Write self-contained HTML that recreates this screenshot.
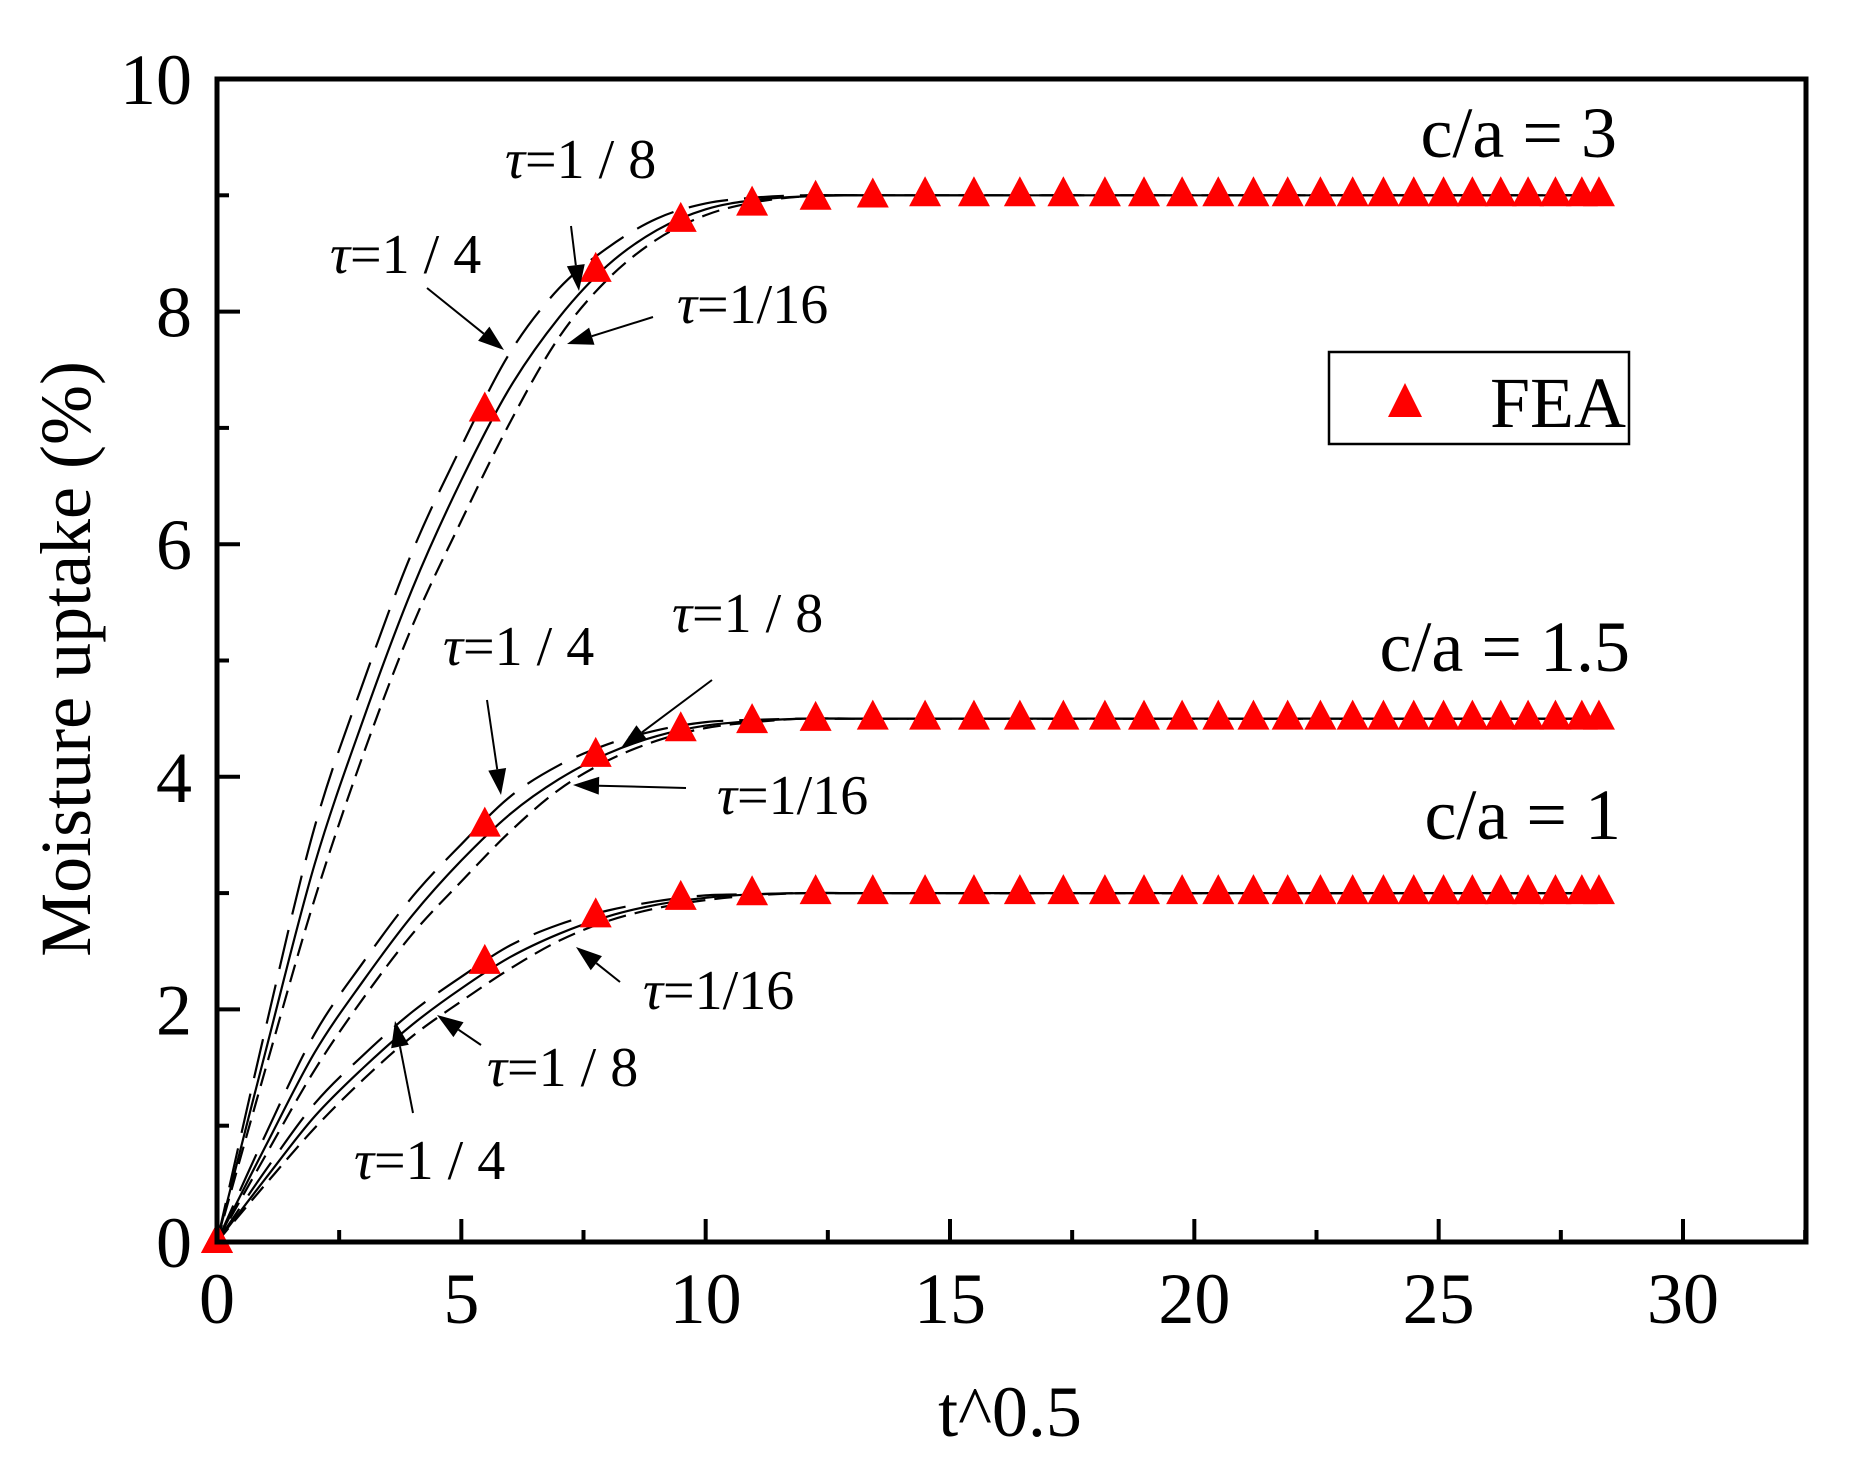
<!DOCTYPE html>
<html><head><meta charset="utf-8"><style>
html,body{margin:0;padding:0;background:#fff;}
svg{display:block;font-family:"Liberation Serif","Times New Roman",serif;}
</style></head><body>
<svg id="chart" xmlns="http://www.w3.org/2000/svg" width="1861" height="1484" viewBox="0 0 1861 1484">
<rect x="0" y="0" width="1861" height="1484" fill="#fff"/>
<g id="curves"></g>
<g id="fea"></g>
<g id="axes"></g>
<g id="annot" font-size="56">
<text x="1617" y="157" text-anchor="end" font-size="72">c/a = 3</text>
<text x="1630" y="671" text-anchor="end" font-size="72">c/a = 1.5</text>
<text x="1621" y="839" text-anchor="end" font-size="72">c/a = 1</text>
<text x="505" y="178"><tspan font-style="italic">τ</tspan>=1 / 8</text>
<text x="330" y="273"><tspan font-style="italic">τ</tspan>=1 / 4</text>
<text x="677" y="323"><tspan font-style="italic">τ</tspan>=1/16</text>
<text x="443" y="665"><tspan font-style="italic">τ</tspan>=1 / 4</text>
<text x="672" y="632"><tspan font-style="italic">τ</tspan>=1 / 8</text>
<text x="717" y="814"><tspan font-style="italic">τ</tspan>=1/16</text>
<text x="643" y="1009"><tspan font-style="italic">τ</tspan>=1/16</text>
<text x="487" y="1086"><tspan font-style="italic">τ</tspan>=1 / 8</text>
<text x="354" y="1179"><tspan font-style="italic">τ</tspan>=1 / 4</text>
</g>
<g id="arrows"></g>
<g>
<rect x="1329" y="352" width="300" height="92" fill="#fff" stroke="#000" stroke-width="2.5"/>
<polygon points="1405,383 1388,417 1422,417" fill="#ff0000"/>
<text x="1490" y="427" font-size="72">FEA</text>
</g>
<text x="1010" y="1436" text-anchor="middle" font-size="72">t^0.5</text>
<text transform="translate(90,659) rotate(-90)" text-anchor="middle" font-size="72">Moisture uptake (%)</text>
</svg>
<script>
const xTicks = [0,5,10,15,20,25,30];
const yTicks = [0,2,4,6,8,10];
const curveX = [0,1,2,3,4,5,6,7,8,9,10,11,12,13,14,28.2];
const tau4_ca3 = [0,1.85,3.57,4.82,5.94,6.84,7.65,8.2,8.55,8.8,8.93,8.98,9.0,9.0,9.0,9.0];
const tau8_ca3 = [0,1.65,3.25,4.5,5.62,6.55,7.35,7.95,8.4,8.7,8.88,8.96,8.99,9.0,9.0,9.0];
const tau16_ca3 = [0,1.5,2.95,4.2,5.3,6.2,7.05,7.78,8.28,8.62,8.83,8.94,8.99,9.0,9.0,9.0];
const tau4_ca15 = [0,0.93,1.79,2.41,2.97,3.42,3.83,4.1,4.28,4.4,4.47,4.49,4.5,4.5,4.5,4.5];
const tau8_ca15 = [0,0.83,1.63,2.25,2.81,3.28,3.68,3.98,4.2,4.35,4.44,4.48,4.5,4.5,4.5,4.5];
const tau16_ca15 = [0,0.75,1.48,2.1,2.65,3.1,3.53,3.89,4.14,4.31,4.42,4.47,4.5,4.5,4.5,4.5];
const tau4_ca1 = [0,0.62,1.19,1.61,1.98,2.28,2.55,2.73,2.85,2.93,2.98,2.99,3,3,3,3];
const tau8_ca1 = [0,0.55,1.08,1.5,1.87,2.18,2.45,2.65,2.8,2.9,2.96,2.99,3,3,3,3];
const tau16_ca1 = [0,0.5,0.98,1.4,1.77,2.07,2.35,2.59,2.76,2.87,2.94,2.98,3,3,3,3];
const feaX = [0,5.48,7.75,9.49,10.95,12.25,13.42,14.49,15.49,16.43,17.32,18.17,18.97,19.75,20.49,21.21,21.91,22.58,23.24,23.87,24.49,25.1,25.69,26.27,26.83,27.39,27.93,28.28];
const fea_ca3 = [0,7.15,8.35,8.78,8.92,8.97,8.99,9,9,9,9,9,9,9,9,9,9,9,9,9,9,9,9,9,9,9,9,9];
const fea_ca15 = [0,3.58,4.18,4.4,4.47,4.49,4.5,4.5,4.5,4.5,4.5,4.5,4.5,4.5,4.5,4.5,4.5,4.5,4.5,4.5,4.5,4.5,4.5,4.5,4.5,4.5,4.5,4.5];
const fea_ca1 = [0,2.4,2.8,2.95,2.99,3,3,3,3,3,3,3,3,3,3,3,3,3,3,3,3,3,3,3,3,3,3,3];

const NS='http://www.w3.org/2000/svg';
const L=217,R=1806,T=79,B=1242;
const sx=v=>L+v*(1683-217)/30;
const sy=v=>B-v*(B-T)/10;
function mk(tag,attrs,parent){const e=document.createElementNS(NS,tag);for(const k in attrs)e.setAttribute(k,attrs[k]);parent.appendChild(e);return e;}

function smoothPath(xs,ys){
  const p=xs.map((x,i)=>[sx(x),sy(ys[i])]);
  let d='M'+p[0][0].toFixed(1)+','+p[0][1].toFixed(1);
  for(let i=0;i<p.length-1;i++){
    const p0=p[Math.max(i-1,0)],p1=p[i],p2=p[i+1],p3=p[Math.min(i+2,p.length-1)];
    let c1x=p1[0]+(p2[0]-p0[0])/6,c1y=p1[1]+(p2[1]-p0[1])/6;
    let c2x=p2[0]-(p3[0]-p1[0])/6,c2y=p2[1]-(p3[1]-p1[1])/6;
    if(i===p.length-2){c1x=p1[0]+(p2[0]-p1[0])/3;c1y=p1[1];}
    d+=' C'+c1x.toFixed(1)+','+c1y.toFixed(1)+' '+c2x.toFixed(1)+','+c2y.toFixed(1)+' '+p2[0].toFixed(1)+','+p2[1].toFixed(1);
  }
  return d;
}
const cg=document.getElementById('curves');
const series=[
 [tau4_ca3,'40 16','curve-tau4-ca3'],[tau8_ca3,'','curve-tau8-ca3'],[tau16_ca3,'18 9','curve-tau16-ca3'],
 [tau4_ca15,'40 16','curve-tau4-ca15'],[tau8_ca15,'','curve-tau8-ca15'],[tau16_ca15,'18 9','curve-tau16-ca15'],
 [tau4_ca1,'40 16','curve-tau4-ca1'],[tau8_ca1,'','curve-tau8-ca1'],[tau16_ca1,'18 9','curve-tau16-ca1']];
series.forEach(s=>{
  const e=mk('path',{d:smoothPath(curveX,s[0]),fill:'none',stroke:'#000','stroke-width':2.2},cg);
  if(s[1])e.setAttribute('stroke-dasharray',s[1]);
  
  
});
const fg=document.getElementById('fea');
[[fea_ca3,'fea-ca3'],[fea_ca15,'fea-ca15'],[fea_ca1,'fea-ca1']].forEach(s=>{
  feaX.forEach((x,i)=>{
    const cx=sx(x),cy=sy(s[0][i]);
    const e=mk('polygon',{points:`${cx},${cy-19} ${cx-16},${cy+11} ${cx+16},${cy+11}`,fill:'#ff0000'},fg);
    
    
  });
});
const ag=document.getElementById('axes');
const fr=mk('rect',{x:L,y:T,width:R-L,height:B-T,fill:'none',stroke:'#000','stroke-width':5},ag);


xTicks.forEach(v=>{
  const t=mk('line',{x1:sx(v),x2:sx(v),y1:B,y2:B-23,stroke:'#000','stroke-width':4},ag);
  
  
  const m=mk('line',{x1:sx(v+2.5),x2:sx(v+2.5),y1:B,y2:B-12,stroke:'#000','stroke-width':4},ag);
  
  
  const l=mk('text',{x:sx(v),y:1323,'text-anchor':'middle','font-size':72},ag);
  l.textContent=v;
  
  
});
yTicks.forEach(v=>{
  const t=mk('line',{x1:L,x2:L+23,y1:sy(v),y2:sy(v),stroke:'#000','stroke-width':4},ag);
  
  
  if(v<10){const m=mk('line',{x1:L,x2:L+12,y1:sy(v+1),y2:sy(v+1),stroke:'#000','stroke-width':4},ag);
  
  }
  const l=mk('text',{x:192,y:sy(v)+25,'text-anchor':'end','font-size':72},ag);
  l.textContent=v;
  
  
});
const arrows=[[427,288,504,350],[571,226,579,291],[653,317,567,344],[487,700,501,795],[712,680,621,748],[686,788,573,785],[620,982,576,947],[481,1045,437,1015],[413,1113,395,1021]];
const arg=document.getElementById('arrows');
arrows.forEach(a=>{
  const [x1,y1,x2,y2]=a;const dx=x2-x1,dy=y2-y1,len=Math.hypot(dx,dy),ux=dx/len,uy=dy/len;
  const hl=26,hw=9;const bx=x2-ux*hl,by=y2-uy*hl;
  const ln=mk('line',{x1,y1,x2:bx,y2:by,stroke:'#000','stroke-width':2},arg);
  
  
  const h=mk('polygon',{points:`${x2},${y2} ${bx-uy*hw},${by+ux*hw} ${bx+uy*hw},${by-ux*hw}`,fill:'#000'},arg);
  
  
});
</script>
</body></html>
